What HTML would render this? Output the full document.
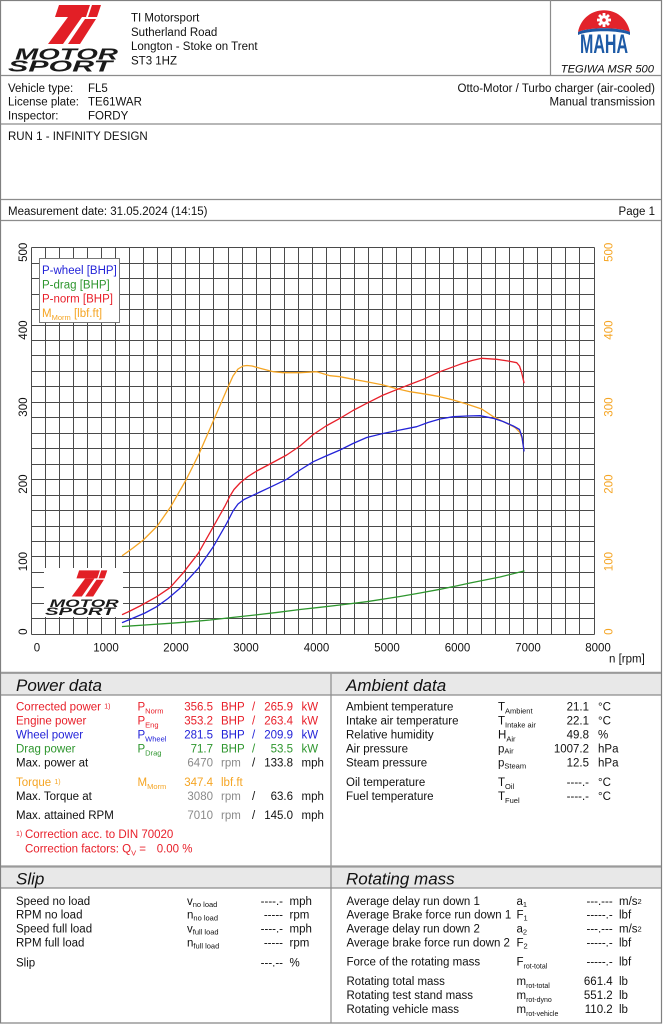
<!DOCTYPE html>
<html><head><meta charset="utf-8"><style>
html,body{margin:0;padding:0;background:#fff;}
svg{display:block;}
text{font-family:"Liberation Sans",Arial,sans-serif;}
</style></head><body>
<svg width="663" height="1024" viewBox="0 0 663 1024" xmlns="http://www.w3.org/2000/svg" font-size="11.5">
<rect x="0" y="0" width="663" height="1024" fill="#fff"/>
<!-- section header backgrounds -->
<rect x="1" y="673" width="660" height="22" fill="#e8e8e8"/>
<rect x="1" y="867" width="660" height="21" fill="#e8e8e8"/>
<!-- page borders -->
<rect x="0.5" y="0.5" width="661" height="1022.5" fill="none" stroke="#808080" stroke-width="1.2"/>
<g stroke="#8c8c8c" stroke-width="1.2" fill="none">
<path d="M1 75.5H661M1 124H661M1 199.5H661M1 220.5H661M550.5 0V75.5"/>
<path d="M1 695H661M1 888H661M331 673V1023"/>
</g>
<path d="M1 672.8H661M1 866.5H661" stroke="#9a9a9a" stroke-width="2.2"/>

<!-- top-left logo -->
<g>
<g fill="#e21f26">
<polygon points="59,5 90,5 86,17 55,17"/>
<polygon points="68,17 82,17 63,44 48,44"/>
<polygon points="92,5 101,5 97,17 88,17"/>
<polygon points="85,19 96,19 80,44 68,44"/>
</g>
<text x="15" y="59.5" font-size="16" font-weight="bold" font-style="italic" textLength="103" lengthAdjust="spacingAndGlyphs" fill="#1a1a1a">MOTOR</text>
<text x="8" y="71.5" font-size="16" font-weight="bold" font-style="italic" textLength="104" lengthAdjust="spacingAndGlyphs" fill="#1a1a1a">SPORT</text>
</g>

<!-- header address -->
<g fill="#111">
<text x="131" y="21.5">TI Motorsport</text>
<text x="131" y="35.8">Sutherland Road</text>
<text x="131" y="50">Longton - Stoke on Trent</text>
<text x="131" y="64.3">ST3 1HZ</text>
</g>

<!-- MAHA logo -->
<path d="M578,32 C584,3 624,3 630,32 C620,27 588,27 578,32 Z" fill="#e2232b"/>
<path d="M578,32 C588,27 620,27 630,32 L630,35 C620,30 588,30 578,35 Z" fill="#1d5aa6"/>
<g transform="translate(604,20)" fill="#fff">
<circle r="4.6"/>
<rect x="-1.4" y="-7" width="2.8" height="14"/>
<rect x="-7" y="-1.4" width="14" height="2.8"/>
<rect x="-1.4" y="-7" width="2.8" height="14" transform="rotate(45)"/>
<rect x="-1.4" y="-7" width="2.8" height="14" transform="rotate(-45)"/>
<circle r="1.8" fill="#e2232b"/>
</g>
<text x="580" y="53" font-size="27" font-weight="bold" fill="#1d5aa6" textLength="48" lengthAdjust="spacingAndGlyphs">MAHA</text>
<text x="654" y="72.3" font-size="11.2" font-style="italic" text-anchor="end" fill="#111">TEGIWA MSR 500</text>

<!-- vehicle info -->
<g fill="#111">
<text x="8" y="92.2">Vehicle type:</text><text x="88" y="92.2">FL5</text>
<text x="8" y="105.5">License plate:</text><text x="88" y="105.5">TE61WAR</text>
<text x="8" y="119.5">Inspector:</text><text x="88" y="119.5">FORDY</text>
<text x="655" y="92.2" text-anchor="end">Otto-Motor / Turbo charger (air-cooled)</text>
<text x="655" y="105.5" text-anchor="end">Manual transmission</text>
<text x="8" y="140.2">RUN 1 - INFINITY DESIGN</text>
<text x="8" y="215.2">Measurement date: 31.05.2024 (14:15)</text>
<text x="655" y="215.2" text-anchor="end">Page 1</text>
</g>

<!-- chart grid -->
<g stroke="#4a4a4a" stroke-width="1" fill="none">
<path d="M31.5 247.5V634.5M45.5 247.5V634.5M59.5 247.5V634.5M73.5 247.5V634.5M87.5 247.5V634.5M101.5 247.5V634.5M115.5 247.5V634.5M129.5 247.5V634.5M143.5 247.5V634.5M157.5 247.5V634.5M171.5 247.5V634.5M185.5 247.5V634.5M199.5 247.5V634.5M213.5 247.5V634.5M228.5 247.5V634.5M242.5 247.5V634.5M256.5 247.5V634.5M270.5 247.5V634.5M284.5 247.5V634.5M298.5 247.5V634.5M312.5 247.5V634.5M326.5 247.5V634.5M340.5 247.5V634.5M354.5 247.5V634.5M368.5 247.5V634.5M382.5 247.5V634.5M396.5 247.5V634.5M411.5 247.5V634.5M425.5 247.5V634.5M439.5 247.5V634.5M453.5 247.5V634.5M467.5 247.5V634.5M481.5 247.5V634.5M495.5 247.5V634.5M509.5 247.5V634.5M523.5 247.5V634.5M537.5 247.5V634.5M551.5 247.5V634.5M565.5 247.5V634.5M579.5 247.5V634.5M594.5 247.5V634.5"/>
<path d="M31.5 247.5H594.5M31.5 263.5H594.5M31.5 278.5H594.5M31.5 294.5H594.5M31.5 309.5H594.5M31.5 325.5H594.5M31.5 340.5H594.5M31.5 355.5H594.5M31.5 371.5H594.5M31.5 386.5H594.5M31.5 402.5H594.5M31.5 417.5H594.5M31.5 433.5H594.5M31.5 448.5H594.5M31.5 464.5H594.5M31.5 479.5H594.5M31.5 495.5H594.5M31.5 510.5H594.5M31.5 526.5H594.5M31.5 541.5H594.5M31.5 556.5H594.5M31.5 572.5H594.5M31.5 587.5H594.5M31.5 603.5H594.5M31.5 618.5H594.5M31.5 634.5H594.5"/>
</g>

<!-- chart logo box -->
<rect x="44" y="568" width="79" height="49" fill="#fff"/>
<g transform="translate(39.6,567) scale(0.67)">
<g fill="#e21f26">
<polygon points="59,5 90,5 86,17 55,17"/>
<polygon points="68,17 82,17 63,44 48,44"/>
<polygon points="92,5 101,5 97,17 88,17"/>
<polygon points="85,19 96,19 80,44 68,44"/>
</g>
<text x="15" y="59.5" font-size="16" font-weight="bold" font-style="italic" textLength="103" lengthAdjust="spacingAndGlyphs" fill="#1a1a1a">MOTOR</text>
<text x="8" y="71.5" font-size="16" font-weight="bold" font-style="italic" textLength="104" lengthAdjust="spacingAndGlyphs" fill="#1a1a1a">SPORT</text>
</g>

<!-- legend -->
<rect x="39.5" y="258.5" width="80" height="64" fill="#fff" stroke="#777" stroke-width="1"/>
<text x="42" y="274.2" fill="#2323d8">P-wheel [BHP]</text>
<text x="42" y="288.3" fill="#2e962e">P-drag [BHP]</text>
<text x="42" y="302.5" fill="#e8202a">P-norm [BHP]</text>
<text x="42" y="317" fill="#f5a524">M<tspan font-size="7.5" dy="3">Morm</tspan><tspan dy="-3"> [lbf.ft]</tspan></text>

<!-- curves -->
<g fill="none" stroke-width="1.3" stroke-linejoin="round" stroke-linecap="round">
<polyline stroke="#f5a524" points="122.5,555.5 133,548 143.3,540 157.3,526 170.7,506.7 186,480 199.3,453.3 213.3,421 226.7,390 233,376 238,369 243,366 247,365.5 252,366 260,368.3 273.3,371.7 283.3,372.7 300,372.7 316.7,371.7 330,375.7 340,376.7 353.3,379.3 368,382 383.3,385 396,388.5 410,391.7 426.7,394.3 440,396.7 453.3,400 466.7,404 481.7,409 493.3,416.7 506.7,423.3 515,427.5 519.5,432 522,438 524,450"/>
<polyline stroke="#e8202a" points="122.5,614.5 130,611 140,606 156.7,596.7 170,587.7 183.3,572.7 198.3,553.3 213.3,526.7 225,506 230,496 234,489.5 240,483 248,476.5 256.7,471 270,464 286.7,455 300,446 313.3,434.5 326,426 340,418.3 353,410.5 366.7,403.3 383.3,395 400,388.3 411,384 423.3,379.3 440,371.7 460,364.3 472,360.5 481.7,358.3 496.7,359.3 508,361 516.7,362.7 519.5,366 521.5,372 524,382.7"/>
<polyline stroke="#2323d8" points="122.5,622.5 133.3,618 145,613 156.7,606.7 168,598.5 180,588.3 198.3,568.3 213.3,546.7 226.7,523.3 233,511 238,504 244,499.5 250,496.7 260,492 270,487.3 286.7,479.3 300,470 313.3,461.7 326,456 340,450 353,443.5 366.7,437.5 383,433.5 400,430 416.7,426.7 428,422.5 440,419 453.3,416.7 467,416 480,415.7 493.3,418.3 503,421.5 513.3,426 519.5,429.5 522,437 524,451"/>
<polyline stroke="#2e962e" points="122.5,626.5 145,625 170,623.3 190,621.8 210,620 232,617.5 255,615 278,612.3 300,609.5 320,607.3 340,605 366.7,601.7 384,599 400,596.5 420,593 440,589.3 455,586.3 470,583 485,580 500,577 512,574 524,571"/>
</g>

<!-- left axis labels -->
<g fill="#111" text-anchor="end">
<text transform="translate(26.8,242.7) rotate(-90)">500</text>
<text transform="translate(26.8,320.5) rotate(-90)">400</text>
<text transform="translate(26.8,397.5) rotate(-90)">300</text>
<text transform="translate(26.8,474.5) rotate(-90)">200</text>
<text transform="translate(26.8,552) rotate(-90)">100</text>
<text transform="translate(26.8,628.5) rotate(-90)">0</text>
</g>
<g fill="#f5a524" text-anchor="end">
<text transform="translate(612.4,242.7) rotate(-90)">500</text>
<text transform="translate(612.4,320.5) rotate(-90)">400</text>
<text transform="translate(612.4,397.5) rotate(-90)">300</text>
<text transform="translate(612.4,474.5) rotate(-90)">200</text>
<text transform="translate(612.4,552) rotate(-90)">100</text>
<text transform="translate(612.4,628.5) rotate(-90)">0</text>
</g>
<!-- x axis labels -->
<g fill="#111" text-anchor="middle">
<text x="37" y="651.5">0</text>
<text x="106" y="651.5">1000</text>
<text x="176" y="651.5">2000</text>
<text x="246" y="651.5">3000</text>
<text x="316.5" y="651.5">4000</text>
<text x="387" y="651.5">5000</text>
<text x="457.5" y="651.5">6000</text>
<text x="528" y="651.5">7000</text>
<text x="598" y="651.5">8000</text>
</g>
<text x="609" y="662.5" fill="#111">n [rpm]</text>

<!-- section headers -->
<g font-size="17" font-style="italic" fill="#111">
<text x="16" y="690.8">Power data</text>
<text x="346" y="690.8">Ambient data</text>
<text x="16" y="884.5">Slip</text>
<text x="346" y="884.5">Rotating mass</text>
</g>

<!-- power data -->
<g fill="#e8202a">
<text x="16" y="710.5">Corrected power <tspan font-size="7" dy="-2">1)</tspan></text>
<text x="137.5" y="710.5">P<tspan font-size="7.5" dy="3">Norm</tspan></text>
<text x="213" y="710.5" text-anchor="end">356.5</text><text x="221" y="710.5">BHP</text><text x="252" y="710.5">/</text><text x="293" y="710.5" text-anchor="end">265.9</text><text x="301.5" y="710.5">kW</text>
<text x="16" y="724.5">Engine power</text>
<text x="137.5" y="724.5">P<tspan font-size="7.5" dy="3">Eng</tspan></text>
<text x="213" y="724.5" text-anchor="end">353.2</text><text x="221" y="724.5">BHP</text><text x="252" y="724.5">/</text><text x="293" y="724.5" text-anchor="end">263.4</text><text x="301.5" y="724.5">kW</text>
</g>
<g fill="#2323d8">
<text x="16" y="738.5">Wheel power</text>
<text x="137.5" y="738.5">P<tspan font-size="7.5" dy="3">Wheel</tspan></text>
<text x="213" y="738.5" text-anchor="end">281.5</text><text x="221" y="738.5">BHP</text><text x="252" y="738.5">/</text><text x="293" y="738.5" text-anchor="end">209.9</text><text x="301.5" y="738.5">kW</text>
</g>
<g fill="#2e962e">
<text x="16" y="752.5">Drag power</text>
<text x="137.5" y="752.5">P<tspan font-size="7.5" dy="3">Drag</tspan></text>
<text x="213" y="752.5" text-anchor="end">71.7</text><text x="221" y="752.5">BHP</text><text x="252" y="752.5">/</text><text x="293" y="752.5" text-anchor="end">53.5</text><text x="301.5" y="752.5">kW</text>
</g>
<g fill="#111">
<text x="16" y="766.5">Max. power at</text>
<text x="213" y="766.5" text-anchor="end" fill="#8a8a8a">6470</text><text x="221" y="766.5" fill="#8a8a8a">rpm</text><text x="252" y="766.5">/</text><text x="293" y="766.5" text-anchor="end">133.8</text><text x="301.5" y="766.5">mph</text>
</g>
<g fill="#f5a524">
<text x="16" y="786">Torque <tspan font-size="7" dy="-2">1)</tspan></text>
<text x="137.5" y="786">M<tspan font-size="7.5" dy="3">Morm</tspan></text>
<text x="213" y="786" text-anchor="end">347.4</text><text x="221" y="786">lbf.ft</text>
</g>
<g fill="#111">
<text x="16" y="800">Max. Torque at</text>
<text x="213" y="800" text-anchor="end" fill="#8a8a8a">3080</text><text x="221" y="800" fill="#8a8a8a">rpm</text><text x="252" y="800">/</text><text x="293" y="800" text-anchor="end">63.6</text><text x="301.5" y="800">mph</text>
<text x="16" y="819">Max. attained RPM</text>
<text x="213" y="819" text-anchor="end" fill="#8a8a8a">7010</text><text x="221" y="819" fill="#8a8a8a">rpm</text><text x="252" y="819">/</text><text x="293" y="819" text-anchor="end">145.0</text><text x="301.5" y="819">mph</text>
</g>
<g fill="#e8202a">
<text x="16" y="836" font-size="7">1)</text>
<text x="25" y="838.2">Correction acc. to DIN 70020</text>
<text x="25" y="852.5">Correction factors: Q<tspan font-size="7.5" dy="3">V</tspan><tspan dy="-3"> =</tspan></text>
<text x="156.7" y="852.5">0.00 %</text>
</g>

<!-- ambient data -->
<g fill="#111">
<text x="346" y="710.5">Ambient temperature</text><text x="498" y="710.5">T<tspan font-size="7.5" dy="3">Ambient</tspan></text><text x="589" y="710.5" text-anchor="end">21.1</text><text x="598" y="710.5">°C</text>
<text x="346" y="724.5">Intake air temperature</text><text x="498" y="724.5">T<tspan font-size="7.5" dy="3">Intake air</tspan></text><text x="589" y="724.5" text-anchor="end">22.1</text><text x="598" y="724.5">°C</text>
<text x="346" y="738.5">Relative humidity</text><text x="498" y="738.5">H<tspan font-size="7.5" dy="3">Air</tspan></text><text x="589" y="738.5" text-anchor="end">49.8</text><text x="598" y="738.5">%</text>
<text x="346" y="752.5">Air pressure</text><text x="498" y="752.5">p<tspan font-size="7.5" dy="1">Air</tspan></text><text x="589" y="752.5" text-anchor="end">1007.2</text><text x="598" y="752.5">hPa</text>
<text x="346" y="766.5">Steam pressure</text><text x="498" y="766.5">p<tspan font-size="7.5" dy="2">Steam</tspan></text><text x="589" y="766.5" text-anchor="end">12.5</text><text x="598" y="766.5">hPa</text>
<text x="346" y="786">Oil temperature</text><text x="498" y="786">T<tspan font-size="7.5" dy="3">Oil</tspan></text><text x="589" y="786" text-anchor="end">----.-</text><text x="598" y="786">°C</text>
<text x="346" y="800">Fuel temperature</text><text x="498" y="800">T<tspan font-size="7.5" dy="3">Fuel</tspan></text><text x="589" y="800" text-anchor="end">----.-</text><text x="598" y="800">°C</text>
</g>

<!-- slip -->
<g fill="#111">
<text x="16" y="905">Speed no load</text><text x="187" y="905">v<tspan font-size="7.5" dy="2">no load</tspan></text><text x="283" y="905" text-anchor="end">----.-</text><text x="289.5" y="905">mph</text>
<text x="16" y="918.5">RPM no load</text><text x="187" y="918.5">n<tspan font-size="7.5" dy="2">no load</tspan></text><text x="283" y="918.5" text-anchor="end">-----</text><text x="289.5" y="918.5">rpm</text>
<text x="16" y="932.5">Speed full load</text><text x="187" y="932.5">v<tspan font-size="7.5" dy="2">full load</tspan></text><text x="283" y="932.5" text-anchor="end">----.-</text><text x="289.5" y="932.5">mph</text>
<text x="16" y="946.5">RPM full load</text><text x="187" y="946.5">n<tspan font-size="7.5" dy="2">full load</tspan></text><text x="283" y="946.5" text-anchor="end">-----</text><text x="289.5" y="946.5">rpm</text>
<text x="16" y="966.3">Slip</text><text x="283" y="966.3" text-anchor="end">---.--</text><text x="289.5" y="966.3">%</text>
</g>

<!-- rotating mass -->
<g fill="#111">
<text x="346.5" y="905">Average delay run down 1</text><text x="516.5" y="905">a<tspan font-size="7.5" dy="2">1</tspan></text><text x="612.7" y="905" text-anchor="end">---.---</text><text x="619" y="905">m/s<tspan font-size="7.5" dy="-1">2</tspan></text>
<text x="346.5" y="918.5">Average Brake force run down 1</text><text x="516.5" y="918.5">F<tspan font-size="7.5" dy="2">1</tspan></text><text x="612.7" y="918.5" text-anchor="end">-----.-</text><text x="619" y="918.5">lbf</text>
<text x="346.5" y="932.5">Average delay run down 2</text><text x="516.5" y="932.5">a<tspan font-size="7.5" dy="2">2</tspan></text><text x="612.7" y="932.5" text-anchor="end">---.---</text><text x="619" y="932.5">m/s<tspan font-size="7.5" dy="-1">2</tspan></text>
<text x="346.5" y="946.5">Average brake force run down 2</text><text x="516.5" y="946.5">F<tspan font-size="7.5" dy="2">2</tspan></text><text x="612.7" y="946.5" text-anchor="end">-----.-</text><text x="619" y="946.5">lbf</text>
<text x="346.5" y="965.5">Force of the rotating mass</text><text x="516.5" y="965.5">F<tspan font-size="7" dy="3">rot-total</tspan></text><text x="612.7" y="965.5" text-anchor="end">-----.-</text><text x="619" y="965.5">lbf</text>
<text x="346.5" y="985">Rotating total mass</text><text x="516.5" y="985">m<tspan font-size="7" dy="3">rot-total</tspan></text><text x="612.7" y="985" text-anchor="end">661.4</text><text x="619" y="985">lb</text>
<text x="346.5" y="999">Rotating test stand mass</text><text x="516.5" y="999">m<tspan font-size="7" dy="3">rot-dyno</tspan></text><text x="612.7" y="999" text-anchor="end">551.2</text><text x="619" y="999">lb</text>
<text x="346.5" y="1013">Rotating vehicle mass</text><text x="516.5" y="1013">m<tspan font-size="7" dy="3">rot-vehicle</tspan></text><text x="612.7" y="1013" text-anchor="end">110.2</text><text x="619" y="1013">lb</text>
</g>
</svg>
</body></html>
